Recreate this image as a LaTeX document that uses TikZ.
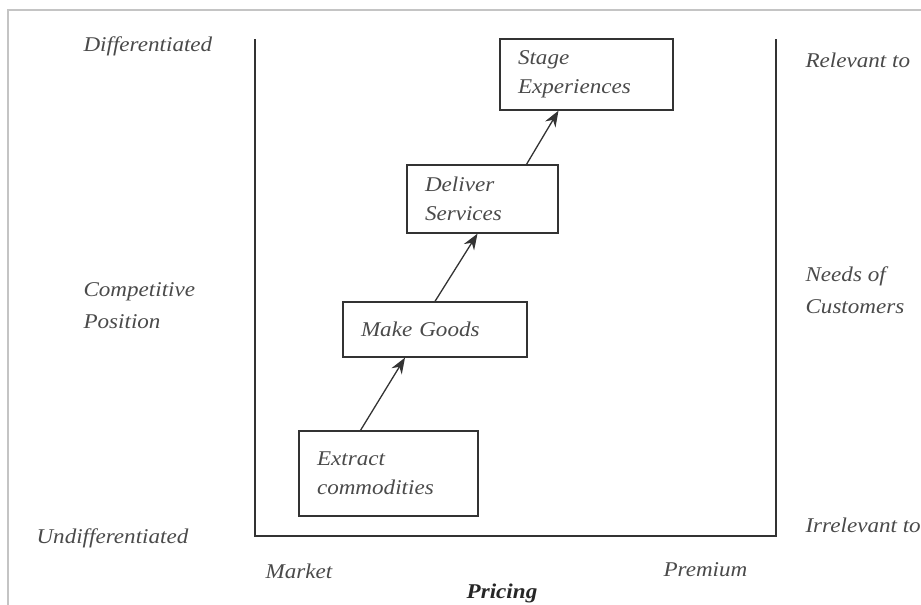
\documentclass[tikz,border=0pt]{standalone}
\usepackage{fontspec}
\setmainfont[FakeStretch=1.1]{Liberation Serif}
\usepackage{tikz}
\usetikzlibrary{arrows.meta}
\definecolor{inkgray}{HTML}{4A4A4A}
\definecolor{linegray}{HTML}{333333}
\definecolor{framegray}{HTML}{C4C4C4}

\begin{document}
\begin{tikzpicture}[x=1pt, y=-1pt,
  actbox/.style={rectangle, draw=linegray, line width=1.3pt, inner xsep=18pt, inner ysep=0pt, align=left, text=inkgray, font=\itshape\fontsize{21}{29}\selectfont},
  sidelabel/.style={anchor=west, align=left, text=inkgray, font=\itshape\fontsize{21}{32}\selectfont},
  climb/.style={-{Stealth[length=16pt, width=12pt]}, line width=1.3pt, linegray}]
\useasboundingbox (0,0) rectangle (921,605);
\draw[framegray, line width=1.5pt] (8,605) -- (8,10) -- (921,10);

% open frame of the chart
\draw[linegray, line width=1.4pt] (255,39) -- (255,536) -- (776,536) -- (776,39);

% the four steps
\node[actbox, minimum width=173pt, minimum height=71pt, text width=137pt] (stage) at (586.5,74.5) {Stage\\Experiences};
\node[actbox, minimum width=151pt, minimum height=68pt, text width=115pt] (deliver) at (482.5,199) {Deliver\\Services};
\node[actbox, minimum width=184pt, minimum height=55pt, text width=148pt] (make) at (435,329.5) {Make Goods};
\node[actbox, minimum width=179pt, minimum height=85pt, text width=143pt] (extract) at (388.5,473.5) {Extract\\commodities};

\draw[climb] ([xshift=-28pt]extract.north) -- ([xshift=-30pt]make.south);
\draw[climb] (make.north) -- ([xshift=-5pt]deliver.south);
\draw[climb] ([xshift=44pt]deliver.north) -- ([xshift=-28pt]stage.south);

% left side
\node[sidelabel] (diff) at (80,46) {Differentiated};
\node[sidelabel] (compos) at (80,306) {Competitive\\Position};
\node[sidelabel] (undiff) at (33,538) {Undifferentiated};

% right side
\node[sidelabel] (relev) at (802,60) {Relevant to};
\node[sidelabel] (needs) at (802,290) {Needs of\\Customers};
\node[sidelabel] (irrel) at (802,525) {Irrelevant to};

% bottom
\node[sidelabel] (market) at (262,571) {Market};
\node[sidelabel] (premium) at (660,570) {Premium};
\node[text=black!85, font=\bfseries\itshape\fontsize{21}{25}\selectfont] (pricing) at (502,593) {Pricing};
\end{tikzpicture}
\end{document}
